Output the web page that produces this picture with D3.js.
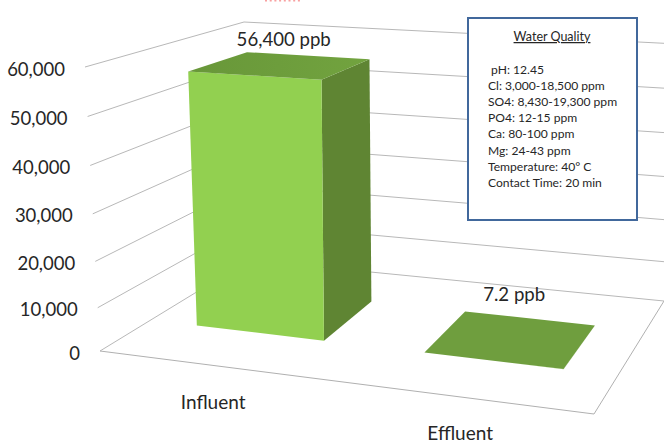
<!DOCTYPE html>
<html>
<head>
<meta charset="utf-8">
<script src="https://cdnjs.cloudflare.com/ajax/libs/d3/7.8.5/d3.min.js"></script>
<style>
  html, body { margin: 0; padding: 0; background: #fff; }
  svg { display: block; }
  text { font-family: Lato, "Open Sans", sans-serif; fill: #262626; }
</style>
</head>
<body>
<div id="plot"></div>
<script>
// data
const categories = ["Influent", "Effluent"];
const values = [56400, 7.2];
const valueLabels = ["56,400 ppb", "7.2 ppb"];
const ticks = [0, 10000, 20000, 30000, 40000, 50000, 60000];
const boxTitle = "Water Quality";
const boxLines = [" pH: 12.45", "Cl: 3,000-18,500 ppm", "SO4: 8,430-19,300 ppm", "PO4: 12-15 ppm",
  "Ca: 80-100 ppm", "Mg: 24-43 ppm", "Temperature: 40° C", "Contact Time: 20 min"];

const w = 664;
const h = 443;

const svg = d3.select("div#plot")
    .append("svg")
    .attr("width", w)
    .attr("height", h);

// slight left to right change on the top face of the bar
const topGrad = svg.append("defs").append("linearGradient")
    .attr("id", "topGrad");
topGrad.append("stop").attr("offset", "0%").attr("stop-color", "#689739");
topGrad.append("stop").attr("offset", "100%").attr("stop-color", "#72a33f");

// corners of the 3d box, floor and at the top tick
// a = front left, b = front right, c = back left, d = back right
const floor = {a: [100, 351], b: [594, 414], c: [249, 260], d: [664, 301]};
const roof = {a: [85, 67], b: [611, 99], c: [244, 22], d: [668, 43.5]};

// value -> height between floor and roof, a little stretched upward by the perspective
const hScale = d3.scalePow().exponent(1.05).domain([0, 60000]).range([0, 1]);

// categories along the front edge, slightly squeezed toward the viewer's left
const xBand = d3.scaleBand().domain(categories).range([0, 1]).paddingInner(0.43).paddingOuter(0.215);
const squeeze = t => t - 0.09 * t * (1 - t);

// bar depth on the floor
const depthFront = 0.34;
const depthBack = 0.736;

function bilinear(q, u, d, i) {
  return q.a[i] * (1 - u) * (1 - d) + q.b[i] * u * (1 - d) + q.c[i] * (1 - u) * d + q.d[i] * u * d;
}

// u along the front, d into the depth, v the data value
function project(u, d, v) {
  const t = hScale(v);
  return [0, 1].map(i => {
    const bottom = bilinear(floor, u, d, i);
    return bottom + (bilinear(roof, u, d, i) - bottom) * t;
  });
}

const line = d3.line();

// gridlines
const grid = svg.append("g").attr("class", "grid");
ticks.forEach(t => {
  grid.append("path")
      .attr("d", line([project(0, 0, t), project(0, 1, t), project(1, 1, t)]))
      .attr("fill", "none")
      .attr("stroke", "#b8b8b8")
      .attr("stroke-width", 1);
});

// floor edges
grid.append("path")
    .attr("d", line([project(0, 0, 0), project(1, 0, 0), project(1, 1, 0)]))
    .attr("fill", "none")
    .attr("stroke", "#b0b0b0")
    .attr("stroke-width", 1);

// tick labels
svg.append("g").selectAll("text")
    .data(ticks)
  .enter().append("text")
    .attr("x", d => project(0, 0, d)[0] - 20)
    .attr("y", d => project(0, 0, d)[1] + 8.5)
    .attr("text-anchor", "end")
    .attr("font-size", 18.5)
    .text(d => d3.format(",")(d));

// bars
const bars = svg.append("g").selectAll("g")
    .data(categories)
  .enter().append("g");

function face(pts) { return line(pts) + "Z"; }

bars.each(function (c, i) {
  const u0 = squeeze(xBand(c));
  const u1 = squeeze(xBand(c) + xBand.bandwidth());
  const v = values[i];
  const g = d3.select(this);
  // right side
  g.append("path")
      .attr("d", face([project(u1, depthFront, 0), project(u1, depthBack, 0), project(u1, depthBack, v), project(u1, depthFront, v)]))
      .attr("fill", "#5f8533");
  // front
  g.append("path")
      .attr("d", face([project(u0, depthFront, 0), project(u1, depthFront, 0), project(u1, depthFront, v), project(u0, depthFront, v)]))
      .attr("fill", "#92d050");
  // top
  g.append("path")
      .attr("d", face([project(u0, depthFront, v), project(u1, depthFront, v), project(u1, depthBack, v), project(u0, depthBack, v)]))
      .attr("fill", i === 0 ? "url(#topGrad)" : "#6f9e3e");
});

// value labels
const labelShift = [[3, -26], [3, -45]];
svg.append("g").selectAll("text")
    .data(categories)
  .enter().append("text")
    .attr("x", (c, i) => project(squeeze(xBand(c) + xBand.bandwidth() / 2), (depthFront + depthBack) / 2, values[i])[0] + labelShift[i][0])
    .attr("y", (c, i) => project(squeeze(xBand(c) + xBand.bandwidth() / 2), (depthFront + depthBack) / 2, values[i])[1] + labelShift[i][1] + 6)
    .attr("text-anchor", "middle")
    .attr("font-size", 18.6)
    .text((c, i) => valueLabels[i]);

// category labels
svg.append("g").selectAll("text")
    .data(categories)
  .enter().append("text")
    .attr("x", c => project(squeeze(xBand(c) + xBand.bandwidth() / 2), 0, 0)[0] - 2)
    .attr("y", c => project(squeeze(xBand(c) + xBand.bandwidth() / 2), 0, 0)[1] + 43)
    .attr("text-anchor", "middle")
    .attr("font-size", 19)
    .text(c => c);

// red dots cut off at the top of the picture
svg.append("line")
    .attr("x1", 265).attr("x2", 300)
    .attr("y1", 0.5).attr("y2", 0.5)
    .attr("stroke", "#f8a0a0")
    .attr("stroke-width", 2)
    .attr("stroke-dasharray", "2,2.7");

// water quality box
const box = svg.append("g").attr("transform", "translate(468, 18)");
box.append("rect")
    .attr("width", 169)
    .attr("height", 202)
    .attr("fill", "#fff")
    .attr("stroke", "#41689c")
    .attr("stroke-width", 2);
box.append("text")
    .attr("x", 84)
    .attr("y", 23)
    .attr("text-anchor", "middle")
    .attr("font-size", 12.5)
    .attr("text-decoration", "underline")
    .text(boxTitle);
box.selectAll("text.row")
    .data(boxLines)
  .enter().append("text")
    .attr("class", "row")
    .attr("x", 20)
    .attr("y", (d, i) => 56 + i * 16.1)
    .attr("font-size", 12.1)
    .attr("xml:space", "preserve")
    .style("white-space", "pre")
    .text(d => d);
</script>
</body>
</html>
